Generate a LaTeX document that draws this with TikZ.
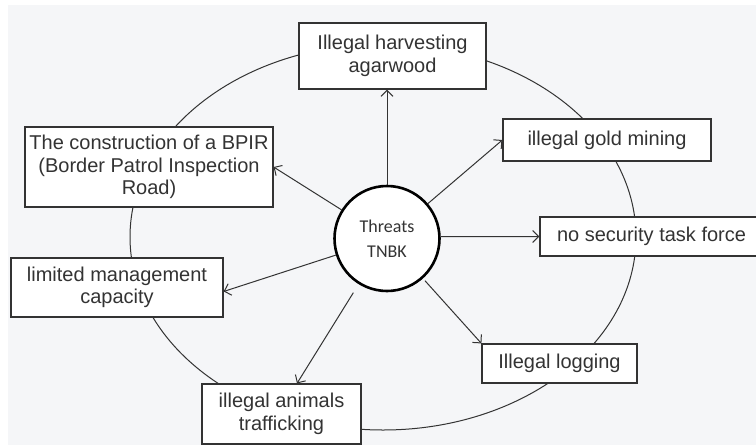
\documentclass[tikz,border=0pt]{standalone}
\usepackage{fontspec}
\setmainfont{Liberation Sans}
\newfontfamily\calfont{Carlito}
\usetikzlibrary{arrows.meta}
\definecolor{bg}{HTML}{F5F6F8}
\definecolor{ink}{HTML}{333333}
\begin{document}
\begin{tikzpicture}[x=1pt,y=-1pt,
  box/.style={draw=ink, fill=white, line width=1.2pt, inner sep=0pt, align=center,
    text=ink, font=\fontsize{20}{22.5}\selectfont},
  hub/.style={circle, draw=black, fill=white, line width=2.6pt, minimum size=105pt,
    inner sep=0pt, align=center, text=ink, font=\calfont\fontsize{18}{25}\selectfont},
  conn/.style={draw=ink, line width=1pt, -{Straight Barb[length=6pt,width=12pt,line width=1pt]}},
  ring/.style={draw=ink, line width=1pt}]
\useasboundingbox (0,0) rectangle (756,445);
\clip (0,0) rectangle (756,445);
\fill[white] (0,0) rectangle (756,445);
\fill[bg] (8,5) rectangle (756,445);
\draw[ring] (383,237) ellipse [x radius=253, y radius=193];
\node[hub] (c) at (387,238.5) {Threats\\TNBK};
\node[box, minimum width=187pt, minimum height=66pt] (agar) at (392.5,56) {Illegal harvesting\\agarwood};
\node[box, minimum width=248pt, minimum height=80pt] (bpir) at (149,167) {The construction of a BPIR\\(Border Patrol Inspection\\Road)};
\node[box, minimum width=208pt, minimum height=42pt] (gold) at (607,140) {illegal gold mining};
\node[box, minimum width=223pt, minimum height=39pt] (nosec) at (651.5,236.5) {no security task force};
\node[box, minimum width=212pt, minimum height=59pt] (cap) at (117,287.5) {limited management\\capacity};
\node[box, minimum width=159pt, minimum height=60pt] (anim) at (281.5,414) {illegal animals\\trafficking};
\node[box, minimum width=155pt, minimum height=39pt] (log) at (559.5,363.5) {Illegal logging};
\draw[conn] (c.north) -- (c.north |- agar.south);
\draw[conn] (c) -- (gold.west);
\draw[conn] (c) -- (c.east |- nosec.west) -- (nosec.west);
\draw[conn, shorten <=3pt] (c) -- (log.north west);
\draw[conn, shorten <=10pt] (c) -- ([xshift=15.5pt]anim.north);
\draw[conn] (c) -- ([yshift=-4pt]cap.east);
\draw[conn] (c) -- (bpir.east);
\end{tikzpicture}
\end{document}
